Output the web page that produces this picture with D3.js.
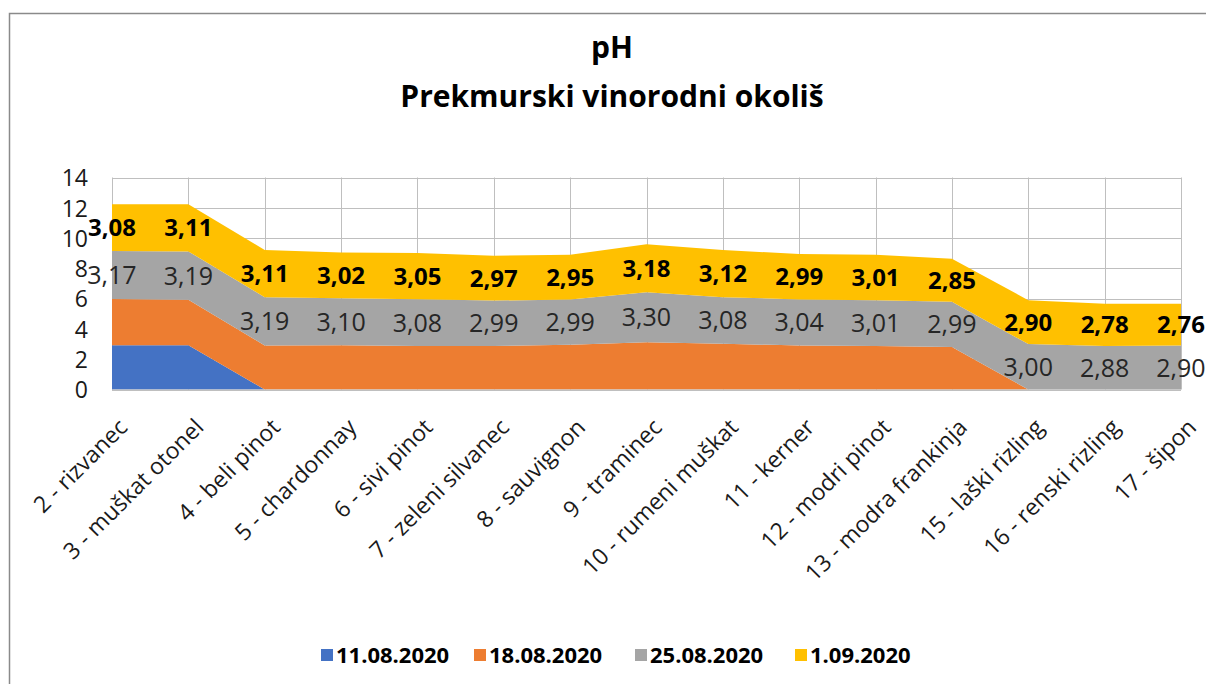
<!DOCTYPE html>
<html>
<head>
<meta charset="utf-8">
<script src="https://cdn.jsdelivr.net/npm/d3@7"></script>
<style>
  html, body { margin: 0; padding: 0; background: #fff; }
  svg { display: block; }
</style>
</head>
<body>
<svg id="chart" width="1206" height="684"></svg>
<script>
const categories = ["2 - rizvanec","3 - muškat otonel","4 - beli pinot","5 - chardonnay","6 - sivi pinot","7 - zeleni silvanec","8 - sauvignon","9 - traminec","10 - rumeni muškat","11 - kerner","12 - modri pinot","13 - modra frankinja","15 - laški rizling","16 - renski rizling","17 - šipon"];
const seriesNames = ["11.08.2020","18.08.2020","25.08.2020","1.09.2020"];
const seriesColors = ["#4472C4","#ED7D31","#A5A5A5","#FFC000"];
const s1108 = [2.92,2.93,0,0,0,0,0,0,0,0,0,0,0,0,0];
const s1808 = [3.06,3.00,2.91,2.93,2.88,2.88,2.96,3.12,3.02,2.91,2.88,2.80,0,0,0];
const s2508 = [3.17,3.19,3.19,3.10,3.08,2.99,2.99,3.30,3.08,3.04,3.01,2.99,3.00,2.88,2.90];
const s0109 = [3.08,3.11,3.11,3.02,3.05,2.97,2.95,3.18,3.12,2.99,3.01,2.85,2.90,2.78,2.76];
const yTicks = [0,2,4,6,8,10,12,14];
const titleLines = ["pH","Prekmurski vinorodni okoliš"];

const seriesValues = [s1108, s1808, s2508, s0109];
const labelled = [false, false, true, true];

const svg = d3.select("#chart");
const FONT = "'Open Sans', sans-serif";

// frame
svg.append("path").attr("d","M9.5,684 L9.5,13.5 L1206,13.5")
  .attr("fill","none").attr("stroke","#8a8a8a").attr("stroke-width",1.5);

const table = categories.map((c,i) => {
  const row = {cat: c};
  seriesNames.forEach((n,k) => row[n] = seriesValues[k][i]);
  return row;
});

const x = d3.scalePoint().domain(categories).range([112, 1181]);
const y = d3.scaleLinear().domain([0,14]).range([389.5, 177.5]);

// gridlines
const grid = svg.append("g");
grid.selectAll("line.h").data(yTicks).join("line")
  .attr("x1", 112).attr("x2", 1181)
  .attr("y1", d => Math.round(y(d))+0.5).attr("y2", d => Math.round(y(d))+0.5)
  .attr("stroke","#bfbfbf").attr("stroke-width",1);
grid.selectAll("line.v").data(categories).join("line")
  .attr("x1", d => Math.round(x(d))+0.5).attr("x2", d => Math.round(x(d))+0.5)
  .attr("y1", y(14)).attr("y2", y(0))
  .attr("stroke","#bfbfbf").attr("stroke-width",1);

const stack = d3.stack().keys(seriesNames)(table);
const area = d3.area()
  .x((d,i) => x(categories[i]))
  .y0(d => y(d[0]))
  .y1(d => y(d[1]));

svg.append("g").selectAll("path").data(stack).join("path")
  .attr("d", area)
  .attr("fill", (d,i) => seriesColors[i]);

// bottom axis line
svg.append("line").attr("x1",112).attr("x2",1181)
  .attr("y1", y(0)+0.5).attr("y2", y(0)+0.5)
  .attr("stroke","#bfbfbf").attr("stroke-width",1);

// y axis
const yAxis = d3.axisLeft(y).tickValues(yTicks).tickSize(0).tickPadding(0);
const yg = svg.append("g").attr("transform","translate(88,0)").call(yAxis);
yg.select(".domain").remove();
yg.selectAll("text").attr("font-family", FONT).attr("font-size", 23)
  .attr("fill","#1a1a1a").attr("dy","0.36em");

// x axis labels
const xAxis = d3.axisBottom(x).tickSize(0).tickPadding(0);
const xg = svg.append("g").call(xAxis);
xg.select(".domain").remove();
xg.selectAll(".tick").attr("transform", d => `translate(${x(d)+5},417)`);
xg.selectAll("text")
  .attr("font-family", FONT).attr("font-size", 23).attr("fill","#1a1a1a")
  .attr("text-anchor","end").attr("y",0).attr("dy","0.72em")
  .attr("transform","rotate(-45)");

// data labels
stack.forEach((s, k) => {
  if (!labelled[k]) return;
  svg.append("g").selectAll("text").data(s).join("text")
    .attr("x", (d,i) => x(categories[i]))
    .attr("y", d => y((d[0]+d[1])/2))
    .attr("dy","0.36em")
    .attr("text-anchor","middle")
    .attr("font-family", FONT)
    .attr("font-size", k === 3 ? 24 : 25)
    .attr("font-weight", k === 3 ? 700 : 400)
    .attr("fill", k === 3 ? "#000" : "#262626")
    .text((d,i) => seriesValues[k][i].toFixed(2).replace(".", ","));
});

// title
svg.append("text").attr("x", 612).attr("y", 58).attr("text-anchor","middle")
  .attr("font-family", FONT).attr("font-size", 30).attr("font-weight",700).attr("fill","#000")
  .text(titleLines[0]);
svg.append("text").attr("x", 612).attr("y", 107).attr("text-anchor","middle")
  .attr("font-family", FONT).attr("font-size", 30).attr("font-weight",700).attr("fill","#000")
  .text(titleLines[1]);

// legend
const legendX = [321, 474, 635, 795];
const lg = svg.append("g");
seriesNames.forEach((n,k) => {
  lg.append("rect").attr("x", legendX[k]).attr("y", 649).attr("width", 12).attr("height", 12)
    .attr("fill", seriesColors[k]);
  lg.append("text").attr("x", legendX[k]+15).attr("y", 655).attr("dy","0.36em")
    .attr("font-family", FONT).attr("font-size", 22).attr("font-weight",700).attr("fill","#000")
    .text(n);
});
</script>
</body>
</html>
